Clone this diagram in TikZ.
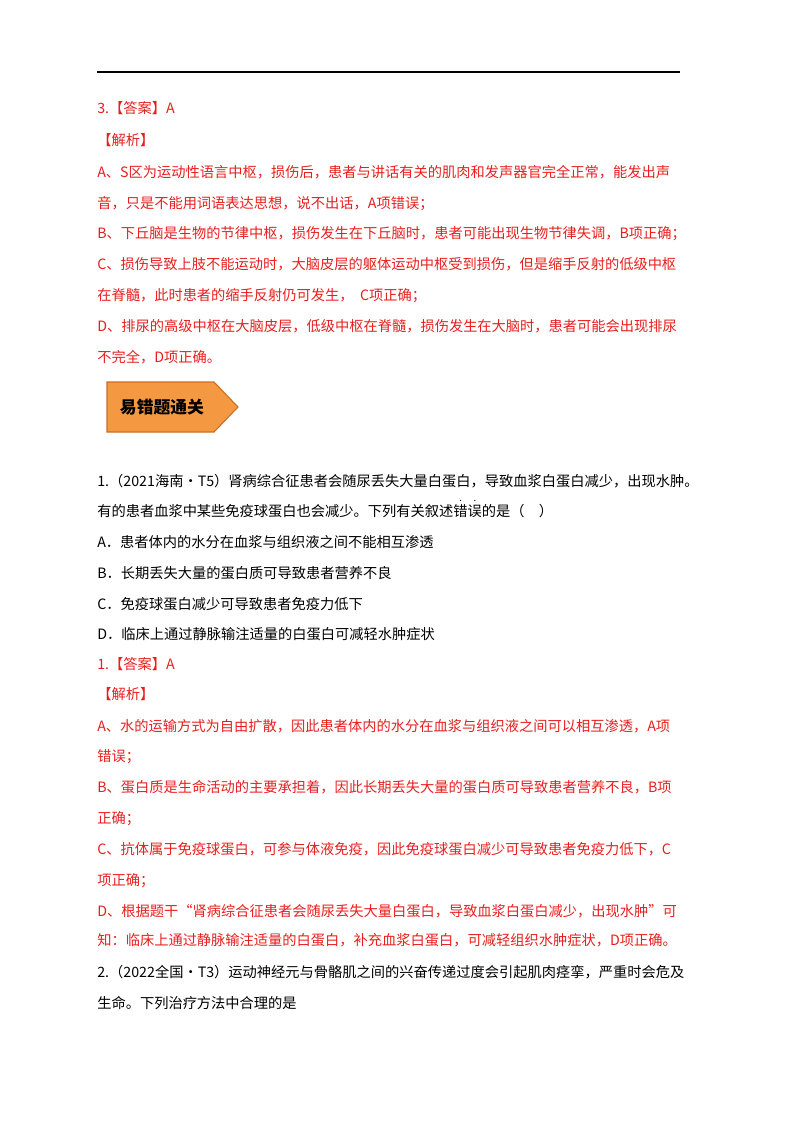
\documentclass[tikz,border=0pt]{standalone}
\usepackage{fontspec}
\setmainfont{Liberation Serif}
\newfontfamily\cjk{Noto Sans CJK SC}
\usetikzlibrary{positioning}
\definecolor{ansred}{RGB}{232,30,30}
\definecolor{bannerfill}{RGB}{244,152,66}
\definecolor{bannerline}{RGB}{200,110,40}
\newcommand{\dotmark}[1]{\leavevmode\ooalign{#1\cr\hidewidth\raisebox{1.05em}{\scriptsize.}\hidewidth\cr}}
\tikzset{
  line/.style={anchor=base west, inner sep=0pt, font=\cjk\fontsize{10.6}{12}\selectfont},
  redline/.style={line, text=ansred},
}
\begin{document}
\begin{tikzpicture}[x=0.744pt,y=-0.744pt]
\useasboundingbox (0,0) rectangle (800,1132);
\draw[line width=1.2pt] (97,72) -- (680,72);
% answer 3
\node(a3)  [redline] at (97,113) {3.【答案】A};
\node(jx1) [redline] at (97,145) {【解析】};
\node(r1)  [redline] at (97,177) {A、S区为运动性语言中枢，损伤后，患者与讲话有关的肌肉和发声器官完全正常，能发出声};
\node(r2)  [redline] at (97,208) {音，只是不能用词语表达思想，说不出话，A项错误；};
\node(r3)  [redline] at (97,238) {B、下丘脑是生物的节律中枢，损伤发生在下丘脑时，患者可能出现生物节律失调，B项正确；};
\node(r4)  [redline] at (97,269) {C、损伤导致上肢不能运动时，大脑皮层的躯体运动中枢受到损伤，但是缩手反射的低级中枢};
\node(r5)  [redline] at (97,300) {在脊髓，此时患者的缩手反射仍可发生，\ \ C项正确；};
\node(r6)  [redline] at (97,331) {D、排尿的高级中枢在大脑皮层，低级中枢在脊髓，损伤发生在大脑时，患者可能会出现排尿};
\node(r7)  [redline] at (97,362) {不完全，D项正确。};
% banner
\filldraw[fill=bannerfill,draw=bannerline,line width=0.8pt]
  (107,382) -- (214,382) -- (238,407) -- (214,432) -- (107,432) -- cycle;
\node(ban) [anchor=center, inner sep=0pt, font=\cjk\bfseries\fontsize{12.5}{14}\selectfont] at (162,407) {易错题通关};
% question 1
\node(q1)  [line] at (97,486) {1.（2021海南·T5）肾病综合征患者会随尿丢失大量白蛋白，导致血浆白蛋白减少，出现水肿。};
\node(q2)  [line] at (97,516) {有的患者血浆中某些免疫球蛋白也会减少。下列有关叙述\dotmark{错}\dotmark{误}的是（\quad）};
\node(oa)  [line] at (97,547) {A．患者体内的水分在血浆与组织液之间不能相互渗透};
\node(ob)  [line] at (97,578) {B．长期丢失大量的蛋白质可导致患者营养不良};
\node(oc)  [line] at (97,609) {C．免疫球蛋白减少可导致患者免疫力低下};
\node(od)  [line] at (97,639) {D．临床上通过静脉输注适量的白蛋白可减轻水肿症状};
\node(a1)  [redline] at (97,669) {1.【答案】A};
\node(jx2) [redline] at (97,699) {【解析】};
\node(s1)  [redline] at (97,731) {A、水的运输方式为自由扩散，因此患者体内的水分在血浆与组织液之间可以相互渗透，A项};
\node(s2)  [redline] at (97,761) {错误；};
\node(s3)  [redline] at (97,792) {B、蛋白质是生命活动的主要承担着，因此长期丢失大量的蛋白质可导致患者营养不良，B项};
\node(s4)  [redline] at (97,823) {正确；};
\node(s5)  [redline] at (97,854) {C、抗体属于免疫球蛋白，可参与体液免疫，因此免疫球蛋白减少可导致患者免疫力低下，C};
\node(s6)  [redline] at (97,885) {项正确；};
\node(s7)  [redline] at (97,916) {D、根据题干“肾病综合征患者会随尿丢失大量白蛋白，导致血浆白蛋白减少，出现水肿”可};
\node(s8)  [redline] at (97,945) {知：临床上通过静脉输注适量的白蛋白，补充血浆白蛋白，可减轻组织水肿症状，D项正确。};
% question 2
\node(t1)  [line] at (97,977) {2.（2022全国·T3）运动神经元与骨骼肌之间的兴奋传递过度会引起肌肉痉挛，严重时会危及};
\node(t2)  [line] at (97,1008) {生命。下列治疗方法中合理的是};
\end{tikzpicture}
\end{document}
